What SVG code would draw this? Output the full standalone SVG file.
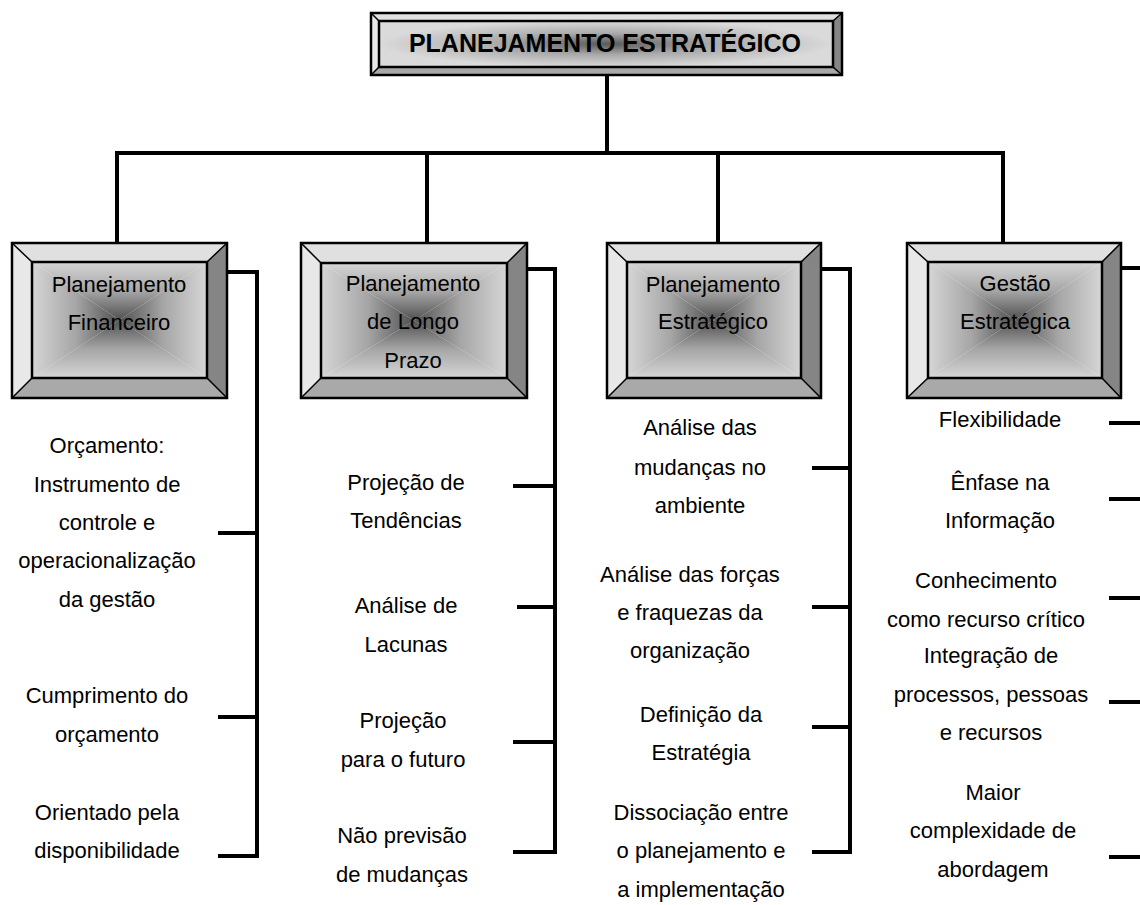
<svg xmlns="http://www.w3.org/2000/svg" width="1140" height="905" viewBox="0 0 1140 905">
<defs>
<linearGradient id="gT" x1="0" y1="0" x2="0" y2="1"><stop offset="0" stop-color="#d6d6d6"/><stop offset="0.5" stop-color="#a6a6a6"/><stop offset="1" stop-color="#505050"/></linearGradient>
<linearGradient id="gB" x1="0" y1="1" x2="0" y2="0"><stop offset="0" stop-color="#d6d6d6"/><stop offset="0.5" stop-color="#a6a6a6"/><stop offset="1" stop-color="#505050"/></linearGradient>
<linearGradient id="gL" x1="0" y1="0" x2="1" y2="0"><stop offset="0" stop-color="#d6d6d6"/><stop offset="0.5" stop-color="#a6a6a6"/><stop offset="1" stop-color="#505050"/></linearGradient>
<linearGradient id="gR" x1="1" y1="0" x2="0" y2="0"><stop offset="0" stop-color="#d6d6d6"/><stop offset="0.5" stop-color="#a6a6a6"/><stop offset="1" stop-color="#505050"/></linearGradient>
<radialGradient id="gTop" cx="0.5" cy="0.5" r="0.5"><stop offset="0" stop-color="#5a5a5a"/><stop offset="0.45" stop-color="#a8a8a8"/><stop offset="1" stop-color="#dadada"/></radialGradient>
</defs>
<style>
.ft{fill:#e0e0e0}.fl{fill:#e8e8e8}.fr{fill:#858585}.fb{fill:#a9a9a9}
.tt{fill:url(#gT)}.tb{fill:url(#gB)}.tl{fill:url(#gL)}.tr{fill:url(#gR)}
.ol{fill:none;stroke:#000;stroke-width:2.5}
.dg{fill:none;stroke:#000;stroke-width:1.5}
.conn{fill:none;stroke:#000;stroke-width:4;stroke-linecap:butt;stroke-linejoin:miter}
text{font-family:"Liberation Sans",Arial,sans-serif;font-size:22px;fill:#000;text-anchor:middle}
.title{font-weight:bold;font-size:25px}
</style>

<g id="connectors">
<path class="conn" d="M607,75 V153"/>
<path class="conn" d="M115,153 H1005"/>
<path class="conn" d="M117,153 V243 M427,153 V243 M718,153 V243 M1003,153 V243"/>
<path class="conn" d="M227,272 H257 V858 M218,533 H257 M218,717 H257 M218,856 H257"/>
<path class="conn" d="M527,269 H555 V854 M513,486 H555 M517,607 H555 M513,742 H555 M513,852 H555"/>
<path class="conn" d="M821,269 H850 V854 M812,468 H850 M812,607 H850 M812,727 H850 M812,852 H850"/>
<path class="conn" d="M1121,268 H1140 M1109,423 H1140 M1109,499 H1140 M1109,598 H1140 M1109,702 H1140 M1109,857 H1140"/>
</g>

<g id="top">
<polygon class="ft" points="371,13 842,13 833,21 379,21"/>
<polygon class="fl" points="371,13 379,21 379,67 371,75"/>
<polygon class="fr" points="842,13 842,75 833,67 833,21"/>
<polygon class="fb" points="371,75 379,67 833,67 842,75"/>
<rect x="379" y="21" width="454" height="46" fill="url(#gTop)"/>
<rect class="ol" x="371" y="13" width="471" height="62"/>
<rect class="ol" x="379" y="21" width="454" height="46"/>
<path class="dg" d="M371,13 L379,21 M842,13 L833,21 M371,75 L379,67 M842,75 L833,67"/>
<text class="title" x="605" y="52">PLANEJAMENTO ESTRATÉGICO</text>
</g>

<g id="box1">
<polygon class="ft" points="12,243 227,243 207,262 32,262"/>
<polygon class="fl" points="12,243 32,262 32,378 12,398"/>
<polygon class="fr" points="227,243 227,398 207,378 207,262"/>
<polygon class="fb" points="12,398 32,378 207,378 227,398"/>
<polygon class="tt" points="32,262 207,262 119.5,320"/>
<polygon class="tb" points="32,378 207,378 119.5,320"/>
<polygon class="tl" points="32,262 32,378 119.5,320"/>
<polygon class="tr" points="207,262 207,378 119.5,320"/>
<rect class="ol" x="12" y="243" width="215" height="155"/>
<rect class="ol" x="32" y="262" width="175" height="116"/>
<path class="dg" d="M12,243 L32,262 M227,243 L207,262 M12,398 L32,378 M227,398 L207,378"/>
<text x="119" y="292">Planejamento</text>
<text x="119" y="330">Financeiro</text>
</g>

<g id="box2">
<polygon class="ft" points="301,243 527,243 507,263 321,263"/>
<polygon class="fl" points="301,243 321,263 321,378 301,398"/>
<polygon class="fr" points="527,243 527,398 507,378 507,263"/>
<polygon class="fb" points="301,398 321,378 507,378 527,398"/>
<polygon class="tt" points="321,263 507,263 414,320.5"/>
<polygon class="tb" points="321,378 507,378 414,320.5"/>
<polygon class="tl" points="321,263 321,378 414,320.5"/>
<polygon class="tr" points="507,263 507,378 414,320.5"/>
<rect class="ol" x="301" y="243" width="226" height="155"/>
<rect class="ol" x="321" y="263" width="186" height="115"/>
<path class="dg" d="M301,243 L321,263 M527,243 L507,263 M301,398 L321,378 M527,398 L507,378"/>
<text x="413" y="291">Planejamento</text>
<text x="413" y="329">de Longo</text>
<text x="413" y="368">Prazo</text>
</g>

<g id="box3">
<polygon class="ft" points="607,243 821,243 801,262 627,262"/>
<polygon class="fl" points="607,243 627,262 627,378 607,398"/>
<polygon class="fr" points="821,243 821,398 801,378 801,262"/>
<polygon class="fb" points="607,398 627,378 801,378 821,398"/>
<polygon class="tt" points="627,262 801,262 714,320"/>
<polygon class="tb" points="627,378 801,378 714,320"/>
<polygon class="tl" points="627,262 627,378 714,320"/>
<polygon class="tr" points="801,262 801,378 714,320"/>
<rect class="ol" x="607" y="243" width="214" height="155"/>
<rect class="ol" x="627" y="262" width="174" height="116"/>
<path class="dg" d="M607,243 L627,262 M821,243 L801,262 M607,398 L627,378 M821,398 L801,378"/>
<text x="713" y="292">Planejamento</text>
<text x="713" y="329">Estratégico</text>
</g>

<g id="box4">
<polygon class="ft" points="907,243 1121,243 1102,262 928,262"/>
<polygon class="fl" points="907,243 928,262 928,378 907,398"/>
<polygon class="fr" points="1121,243 1121,398 1102,378 1102,262"/>
<polygon class="fb" points="907,398 928,378 1102,378 1121,398"/>
<polygon class="tt" points="928,262 1102,262 1015,320"/>
<polygon class="tb" points="928,378 1102,378 1015,320"/>
<polygon class="tl" points="928,262 928,378 1015,320"/>
<polygon class="tr" points="1102,262 1102,378 1015,320"/>
<rect class="ol" x="907" y="243" width="214" height="155"/>
<rect class="ol" x="928" y="262" width="174" height="116"/>
<path class="dg" d="M907,243 L928,262 M1121,243 L1102,262 M907,398 L928,378 M1121,398 L1102,378"/>
<text x="1015" y="291">Gestão</text>
<text x="1015" y="329">Estratégica</text>
</g>

<g id="col1-items">
<text x="107" y="453">Orçamento:</text>
<text x="107" y="492">Instrumento de</text>
<text x="107" y="530">controle e</text>
<text x="107" y="568">operacionalização</text>
<text x="107" y="607">da gestão</text>
<text x="107" y="703">Cumprimento do</text>
<text x="107" y="742">orçamento</text>
<text x="107" y="820">Orientado pela</text>
<text x="107" y="858">disponibilidade</text>
</g>

<g id="col2-items">
<text x="406" y="490">Projeção de</text>
<text x="406" y="528">Tendências</text>
<text x="406" y="613">Análise de</text>
<text x="406" y="652">Lacunas</text>
<text x="403" y="728">Projeção</text>
<text x="403" y="767">para o futuro</text>
<text x="402" y="843">Não previsão</text>
<text x="402" y="882">de mudanças</text>
</g>

<g id="col3-items">
<text x="700" y="435">Análise das</text>
<text x="700" y="475">mudanças no</text>
<text x="700" y="513">ambiente</text>
<text x="690" y="582">Análise das forças</text>
<text x="690" y="620">e fraquezas da</text>
<text x="690" y="658">organização</text>
<text x="701" y="722">Definição da</text>
<text x="701" y="760">Estratégia</text>
<text x="701" y="820">Dissociação entre</text>
<text x="701" y="858">o planejamento e</text>
<text x="701" y="897">a implementação</text>
</g>

<g id="col4-items">
<text x="1000" y="427">Flexibilidade</text>
<text x="1000" y="490">Ênfase na</text>
<text x="1000" y="528">Informação</text>
<text x="986" y="588">Conhecimento</text>
<text x="986" y="627">como recurso crítico</text>
<text x="991" y="663">Integração de</text>
<text x="991" y="702">processos, pessoas</text>
<text x="991" y="740">e recursos</text>
<text x="993" y="800">Maior</text>
<text x="993" y="838">complexidade de</text>
<text x="993" y="877">abordagem</text>
</g>
</svg>
